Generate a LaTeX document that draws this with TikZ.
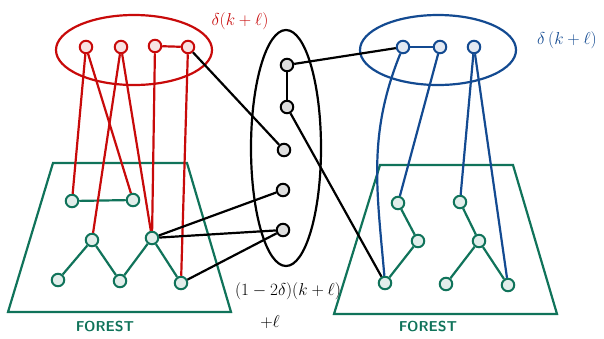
\documentclass[tikz,border=0pt]{standalone}
\usepackage{amsmath,amssymb}
\usepackage{xcolor}
\usepackage{tikz}
\usetikzlibrary{shapes.geometric, positioning}
\definecolor{myred}{HTML}{C80A0A}
\definecolor{myblue}{HTML}{134A91}
\definecolor{mygreen}{HTML}{10735A}
\tikzset{
  % vertex styles
  vtx/.style={circle, inner sep=0pt, minimum size=12.5bp, line width=2bp, draw=#1},
  rnode/.style={vtx=myred, fill=myred!12},
  bnode/.style={vtx=myblue, fill=myblue!12},
  gnode/.style={vtx=mygreen, fill=mygreen!12},
  knode/.style={vtx=black, fill=black!13},
  % edge styles
  redge/.style={draw=myred, line width=2.2bp},
  bedge/.style={draw=myblue, line width=2.2bp},
  gedge/.style={draw=mygreen, line width=2.2bp},
  kedge/.style={draw=black, line width=2.2bp},
  lbl/.style={font=\LARGE},
  forestlbl/.style={font=\Large\sffamily\bfseries, text=mygreen},
}
\begin{document}
\begin{tikzpicture}[x=1bp, y=-1bp]
    \useasboundingbox (0,0) rectangle (604,338);

    % Sets
    \draw[myred, line width=2.2bp] (134,50) ellipse [x radius=78, y radius=35];
    \draw[myblue, line width=2.2bp] (438,50) ellipse [x radius=78, y radius=35];
    \draw[black, line width=2.2bp] (286,148) ellipse [x radius=35, y radius=118];
    \node[lbl, text=myred] (rlbl) at (240,21) {$\delta(k+\ell)$};
    \node[lbl, text=myblue] (blbl) at (567,40) {$\delta\,(k+\ell)$};
    \node[lbl] (mlbl) at (288,291) {$(1-2\delta)(k+\ell)$};
    \node[lbl] (plbl) at (270,322) {$+\ell$};

    % Forests
    \draw[mygreen, line width=2.2bp] (53,163) -- (187,163) -- (231,312) -- (8,312) -- cycle;
    \draw[mygreen, line width=2.2bp] (380,165) -- (513,165) -- (557,314) -- (334,314) -- cycle;
    \node[forestlbl] (lforest) at (105,327) {FOREST};
    \node[forestlbl] (rforest) at (428,327) {FOREST};

    % Red vertices
    \node[rnode] (r1) at (86,47) {};
    \node[rnode] (r2) at (121,47) {};
    \node[rnode] (r3) at (155,46) {};
    \node[rnode] (r4) at (188,47) {};

    % Blue vertices
    \node[bnode] (b1) at (403,47) {};
    \node[bnode] (b2) at (440,47) {};
    \node[bnode] (b3) at (474,47) {};

    % Middle vertices
    \node[knode] (k1) at (287,65) {};
    \node[knode] (k2) at (287,107) {};
    \node[knode] (k3) at (284,150) {};
    \node[knode] (k4) at (283,190) {};
    \node[knode] (k5) at (283,230) {};

    % Left forest
    \node[gnode] (la) at (72,201) {};
    \node[gnode] (lb) at (133,200) {};
    \node[gnode] (lc) at (92,240) {};
    \node[gnode] (ld) at (152,238) {};
    \node[gnode] (le) at (58,280) {};
    \node[gnode] (lf) at (120,281) {};
    \node[gnode] (lg) at (181,283) {};

    % Right forest
    \node[gnode] (rp) at (398,203) {};
    \node[gnode] (rq) at (418,241) {};
    \node[gnode] (rr) at (385,283) {};
    \node[gnode] (rs) at (460,202) {};
    \node[gnode] (rt) at (479,241) {};
    \node[gnode] (ru) at (446,284) {};
    \node[gnode] (rv) at (508,285) {};

    % Edges
    \draw[gedge] (la) -- (lb);
    \draw[gedge] (le) -- (lc) -- (lf) -- (ld) -- (lg);
    \draw[gedge] (rp) -- (rq) -- (rr);
    \draw[gedge] (rs) -- (rt) -- (ru);
    \draw[gedge] (rt) -- (rv);

    \draw[redge] (r3) -- (r4);
    \draw[redge] (r1) -- (la);
    \draw[redge] (r1) -- (lb);
    \draw[redge] (r2) -- (lc);
    \draw[redge] (r2) -- (ld);
    \draw[redge] (r3) -- (ld);
    \draw[redge] (r4) -- (lg);

    \draw[bedge] (b1) -- (b2);
    \draw[bedge] (b1) to[out=-112, in=95] (rr);
    \draw[bedge] (b2) -- (rp);
    \draw[bedge] (b3) -- (rs);
    \draw[bedge] (b3) -- (rv);

    \draw[kedge] (k1) -- (k2);
    \draw[kedge] (k1) -- (b1);
    \draw[kedge] (k2) -- (rr);
    \draw[kedge] (k3) -- (r4);
    \draw[kedge] (k4) -- (ld);
    \draw[kedge] (k5) -- (ld);
    \draw[kedge] (k5) -- (lg);
\end{tikzpicture}
\end{document}
